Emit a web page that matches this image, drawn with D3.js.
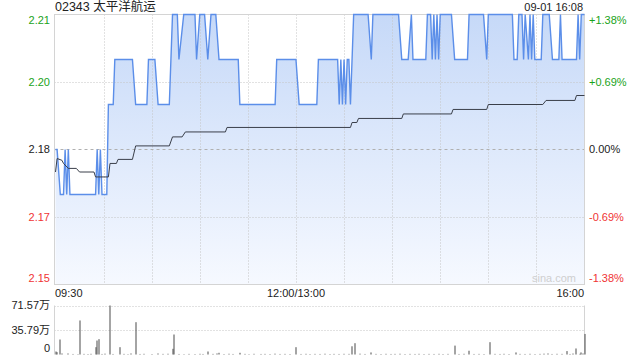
<!DOCTYPE html>
<html>
<head>
<meta charset="utf-8">
<script src="https://cdn.jsdelivr.net/npm/d3@7"></script>
<style>
  body { margin: 0; background: #fff; }
  text { font-family: "Liberation Sans", Arial, "Noto Sans CJK SC", sans-serif; }
</style>
</head>
<body>
<div id="chart"></div>
<script>
// stock + header
var stockName = "02343 太平洋航运";
var stampText = "09-01 16:08";
var prevClose = 2.18;

// price axis labels (left = price, right = change)
var priceTickVals = [2.21, 2.195, 2.18, 2.165, 2.15];
var priceTickText = ["2.21", "2.20", "2.18", "2.17", "2.15"];
var pctTickText = ["+1.38%", "+0.69%", "0.00%", "-0.69%", "-1.38%"];
var timeLabels = ["09:30", "12:00/13:00", "16:00"];
var volTickVals = [71.57, 35.79, 0];
var volTickText = ["71.57万", "35.79万", "0"];

// price line vertices (time, price)
var priceTimes = ["09:30","09:31","09:33","09:35","09:36","09:37","09:38","09:39","09:55","09:56",
  "09:57","09:58","09:59","10:02","10:03","10:06","10:07","10:18","10:20","10:27",
  "10:28","10:32","10:34","10:41","10:43","10:46","10:47","10:50","10:57","10:58",
  "11:00","11:03","11:05","11:07","11:10","11:12","11:24","11:25","11:47","11:48",
  "12:00","13:02","13:13","13:14","13:26","13:27","13:28","13:29","13:30","13:31",
  "13:32","13:33","13:34","13:36","13:45","13:47","13:48","14:04","14:06","14:10",
  "14:12","14:13","14:21","14:22","14:24","14:25","14:26","14:27","14:28","14:29",
  "14:30","14:37","14:39","14:47","14:48","14:57","14:59","15:00","15:15","15:16",
  "15:18","15:19","15:21","15:22","15:23","15:25","15:26","15:27","15:28","15:29",
  "15:33","15:34","15:38","15:40","15:44","15:45","15:46","15:55","15:56","15:57",
  "15:58","16:00"];
var priceVals = [2.18,2.18,2.17,2.17,2.18,2.17,2.18,2.17,2.17,2.18,
  2.17,2.18,2.17,2.17,2.19,2.19,2.20,2.20,2.19,2.19,
  2.20,2.20,2.19,2.19,2.21,2.21,2.20,2.21,2.21,2.20,
  2.21,2.21,2.20,2.21,2.21,2.20,2.20,2.19,2.19,2.20,
  2.20,2.19,2.19,2.20,2.20,2.19,2.20,2.19,2.20,2.19,
  2.20,2.20,2.19,2.21,2.21,2.20,2.21,2.21,2.20,2.20,
  2.21,2.20,2.20,2.21,2.21,2.20,2.21,2.20,2.21,2.20,
  2.21,2.21,2.20,2.20,2.21,2.21,2.20,2.21,2.21,2.20,
  2.20,2.21,2.21,2.20,2.21,2.20,2.21,2.20,2.21,2.20,
  2.20,2.21,2.21,2.20,2.20,2.21,2.20,2.20,2.21,2.20,
  2.21,2.21];

// average price line vertices
var avgTimes = ["09:30","09:31","09:34","09:35","09:38","09:43","09:45","09:54","09:55","10:03",
  "10:04","10:08","10:09","10:18","10:20","10:41","10:43","10:49","10:51","11:16",
  "11:17","13:34","13:35","13:38","13:39","14:06","14:07","14:37","14:38","14:59",
  "15:00","15:34","15:36","15:54","15:55","16:00"];
var avgVals = [2.1750,2.1780,2.1776,2.1769,2.1758,2.1758,2.1750,2.1750,2.1739,2.1739,
  2.1769,2.1769,2.1778,2.1778,2.1808,2.1808,2.1828,2.1828,2.1839,2.1839,
  2.1849,2.1849,2.1860,2.1860,2.1869,2.1869,2.1879,2.1879,2.1889,2.1889,
  2.1900,2.1900,2.1909,2.1909,2.1920,2.1920];

// volume (万 shares)
var volTimes = ["09:30","09:31","09:33","09:34","09:38","09:41","09:44","09:45","09:48","09:50",
  "09:52","09:55","09:56","09:57","09:59","10:01","10:04","10:06","10:10","10:13",
  "10:15","10:17","10:20","10:23","10:25","10:30","10:34","10:37","10:40","10:43",
  "10:44","10:47","10:50","10:53","10:57","11:00","11:02","11:05","11:08","11:11",
  "11:12","11:15","11:18","11:21","11:25","11:28","11:31","11:34","11:38","11:41",
  "11:44","11:47","11:50","11:53","11:56","13:00","13:03","13:06","13:09","13:12",
  "13:15","13:18","13:21","13:24","13:27","13:30","13:33","13:35","13:37","13:40",
  "13:43","13:47","13:50","13:53","13:56","13:59","14:02","14:05","14:08","14:11",
  "14:14","14:17","14:20","14:23","14:26","14:29","14:32","14:35","14:39","14:42",
  "14:45","14:48","14:51","14:54","14:57","15:01","15:04","15:07","15:10","15:13",
  "15:17","15:20","15:23","15:26","15:29","15:32","15:35","15:37","15:40","15:43",
  "15:46","15:49","15:51","15:53","15:55","15:57","15:58","15:59","16:00"];
var volVals = [4.4,3.4,21.9,1.5,1.5,0.8,0.6,49.7,0.9,0.7,
  1.0,10.7,20.4,22.4,0.8,1.2,71.57,0.8,10.7,0.9,
  0.6,1.5,47.2,0.8,1.0,0.7,1.5,0.9,1.1,8.3,
  29.2,0.8,0.6,0.9,0.7,1.0,0.8,4.4,0.9,1.5,
  2.5,0.7,1.1,0.8,2.5,0.9,0.6,1.0,0.8,0.9,
  0.7,1.2,0.8,0.9,0.7,10.7,0.8,1.0,0.7,0.9,
  0.8,1.1,0.7,0.9,0.8,1.0,0.9,12,16.5,1.2,
  0.8,3,0.9,0.7,1.0,0.8,0.9,1.1,0.7,0.9,
  0.8,1.0,0.7,0.9,0.8,1.0,0.7,0.9,13,0.8,
  1.0,5.5,0.8,0.9,0.7,18,0.9,0.8,1.0,0.7,
  3,0.9,0.8,1.0,0.7,0.9,1.2,1.5,0.8,1.0,
  0.9,5,0.8,1.4,8.8,1.0,3,1.5,30];

// minutes of trading since 09:30 (lunch break squeezed out)
function tradeMin(t) {
  var p = t.split(":"), m = +p[0] * 60 + +p[1];
  return m <= 720 ? m - 570 : m - 780 + 150;
}

var W = 640, H = 360;
var svg = d3.select("#chart").append("svg")
    .attr("width", W).attr("height", H);

var left = 54.5, right = 584.5;
var x = d3.scaleLinear().domain([0, 330]).range([55.5, 584.5]);
var y = d3.scaleLinear().domain([2.15, 2.21]).range([284.5, 14.5]);
var yv = d3.scaleLinear().domain([0, 71.57]).range([354.5, 305.5]);

var green = "#1aa31a", red = "#f03434";

// gradient for area
var defs = svg.append("defs");
var grad = defs.append("linearGradient").attr("id", "fillg")
    .attr("x1", 0).attr("y1", 0).attr("x2", 0).attr("y2", 1)
    .attr("gradientUnits", "userSpaceOnUse")
    .attr("x1", 0).attr("y1", y(2.21)).attr("x2", 0).attr("y2", y(2.15));
grad.append("stop").attr("offset", "0%").attr("stop-color", "#c6d9f8");
grad.append("stop").attr("offset", "100%").attr("stop-color", "#f6f9ff");

var priceData = priceTimes.map(function(t, i) { return {m: tradeMin(t), v: priceVals[i]}; });
var avgData = avgTimes.map(function(t, i) { return {m: tradeMin(t), v: avgVals[i]}; });
var volData = volTimes.map(function(t, i) { return {m: tradeMin(t), v: volVals[i]}; });

// area under price
svg.append("path")
    .datum(priceData)
    .attr("fill", "url(#fillg)")
    .attr("d", d3.area()
      .x(function(d) { return x(d.m); })
      .y0(y(2.15))
      .y1(function(d) { return y(d.v); }));

// vertical grid lines every 30 minutes
var vg = d3.range(30, 330, 30);
svg.append("g").selectAll("line").data(vg).enter().append("line")
    .attr("x1", function(d) { return Math.round(x(d)) + 0.5; })
    .attr("x2", function(d) { return Math.round(x(d)) + 0.5; })
    .attr("y1", y(2.21)).attr("y2", y(2.15))
    .attr("stroke", "#c4c4c4").attr("stroke-dasharray", "1,2");

// horizontal grid lines
svg.append("g").selectAll("line").data([2.195, 2.165]).enter().append("line")
    .attr("x1", left).attr("x2", right)
    .attr("y1", function(d) { return Math.round(y(d)) + 0.5; })
    .attr("y2", function(d) { return Math.round(y(d)) + 0.5; })
    .attr("stroke", "#c4c4c4").attr("stroke-dasharray", "1,2");
svg.append("line")
    .attr("x1", left).attr("x2", right)
    .attr("y1", Math.round(y(prevClose)) + 0.5).attr("y2", Math.round(y(prevClose)) + 0.5)
    .attr("stroke", "#b0b0b0").attr("stroke-dasharray", "3,3");

// frame
svg.append("rect")
    .attr("x", left).attr("y", y(2.21))
    .attr("width", right - left).attr("height", y(2.15) - y(2.21))
    .attr("fill", "none").attr("stroke", "#d4d4d4");

// price line
svg.append("path")
    .datum(priceData)
    .attr("fill", "none")
    .attr("stroke", "#5b8ee9")
    .attr("stroke-width", 1.4)
    .attr("d", d3.line()
      .x(function(d) { return x(d.m); })
      .y(function(d) { return y(d.v); }));

// average line
svg.append("path")
    .datum(avgData)
    .attr("fill", "none")
    .attr("stroke", "#3a3f4a")
    .attr("stroke-width", 1)
    .attr("d", d3.line()
      .x(function(d) { return x(d.m); })
      .y(function(d) { return y(d.v); }));

// left price labels
svg.append("g").selectAll("text").data(priceTickVals).enter().append("text")
    .attr("x", 50)
    .attr("y", function(d, i) { return y(d) + (i == 0 ? 6 : i == 4 ? -6 : 0); })
    .attr("dy", "0.35em")
    .attr("text-anchor", "end")
    .attr("font-size", 11)
    .attr("fill", function(d, i) { return i < 2 ? green : i == 2 ? "#222" : red; })
    .text(function(d, i) { return priceTickText[i]; });

// right percent labels
svg.append("g").selectAll("text").data(priceTickVals).enter().append("text")
    .attr("x", 589)
    .attr("y", function(d, i) { return y(d) + (i == 0 ? 6 : i == 4 ? -6 : 0); })
    .attr("dy", "0.35em")
    .attr("font-size", 11)
    .attr("fill", function(d, i) { return i < 2 ? green : i == 2 ? "#222" : red; })
    .text(function(d, i) { return pctTickText[i]; });

// title + time stamp
svg.append("text").attr("x", 55).attr("y", 7).attr("dy", "0.35em")
    .attr("font-size", 12.5).attr("fill", "#222").text(stockName);
svg.append("text").attr("x", 583).attr("y", 7).attr("dy", "0.35em")
    .attr("text-anchor", "end").attr("font-size", 11).attr("fill", "#222")
    .text(stampText);

// watermark
svg.append("text").attr("x", 576).attr("y", 278).attr("dy", "0.35em")
    .attr("text-anchor", "end").attr("font-size", 11).attr("fill", "#cfcfcf")
    .text("sina.com");

// time labels
svg.append("text").attr("x", 55).attr("y", 293.5).attr("dy", "0.35em")
    .attr("font-size", 11).attr("fill", "#222").text(timeLabels[0]);
svg.append("text").attr("x", x(150)).attr("y", 293.5).attr("dy", "0.35em")
    .attr("text-anchor", "middle").attr("font-size", 11).attr("fill", "#222").text(timeLabels[1]);
svg.append("text").attr("x", 584).attr("y", 293.5).attr("dy", "0.35em")
    .attr("text-anchor", "end").attr("font-size", 11).attr("fill", "#222").text(timeLabels[2]);

// volume panel
svg.append("g").selectAll("line").data([71.57, 35.79]).enter().append("line")
    .attr("x1", left).attr("x2", right)
    .attr("y1", function(d) { return Math.round(yv(d)) + 0.5; })
    .attr("y2", function(d) { return Math.round(yv(d)) + 0.5; })
    .attr("stroke", "#c4c4c4").attr("stroke-dasharray", "1,2");
svg.append("line").attr("x1", left).attr("x2", left)
    .attr("y1", yv(71.57)).attr("y2", yv(0)).attr("stroke", "#d4d4d4");
svg.append("line").attr("x1", right).attr("x2", right)
    .attr("y1", yv(71.57)).attr("y2", yv(0)).attr("stroke", "#d4d4d4");

svg.append("g").selectAll("rect").data(volData).enter().append("rect")
    .attr("x", function(d) { return Math.round(x(d.m)) - 0.5; })
    .attr("width", 1)
    .attr("y", function(d) { return yv(d.v); })
    .attr("height", function(d) { return yv(0) - yv(d.v); })
    .attr("fill", "#4a4a4a");

svg.append("g").selectAll("text").data(volTickVals).enter().append("text")
    .attr("x", 50)
    .attr("y", function(d, i) { return yv(d) + (i == 2 ? -6 : 0); })
    .attr("dy", "0.35em")
    .attr("text-anchor", "end")
    .attr("font-size", 11)
    .attr("fill", "#222")
    .text(function(d, i) { return volTickText[i]; });
</script>
</body>
</html>
